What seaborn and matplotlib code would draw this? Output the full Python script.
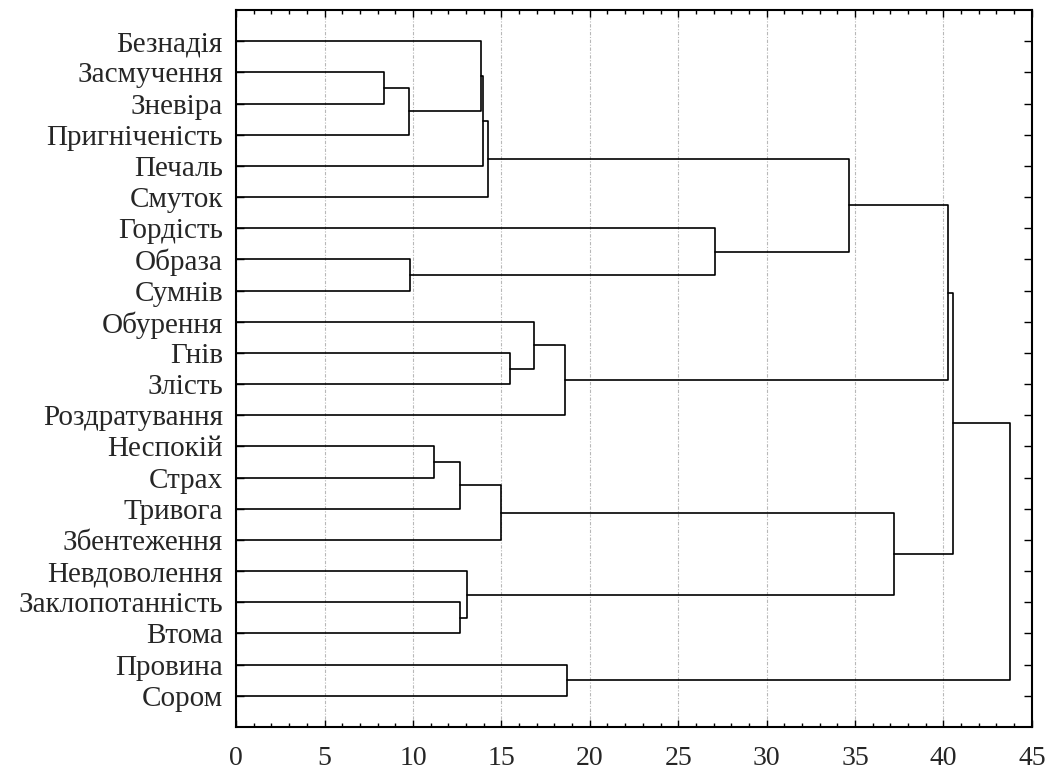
import pandas as pd
import matplotlib.pyplot as plt
import seaborn as sns
from matplotlib.ticker import MultipleLocator

# --- Data ---
leaves = [
    "Безнадія", "Засмучення", "Зневіра", "Пригніченість", "Печаль", "Смуток",
    "Гордість", "Образа", "Сумнів", "Обурення", "Гнів", "Злість",
    "Роздратування", "Неспокій", "Страх", "Тривога", "Збентеження",
    "Невдоволення", "Заклопотанність", "Втома", "Провина", "Сором",
]

# linkage-style merges: new cluster ids start at len(leaves)
merge_left = [1, 22, 7, 13, 25, 18, 17, 0, 29, 30, 26, 10, 9, 34, 20, 6, 31, 32, 38, 40, 41]
merge_right = [2, 3, 8, 14, 15, 19, 27, 23, 4, 5, 16, 11, 33, 12, 21, 24, 37, 28, 35, 39, 36]
merge_dist = [8.39, 9.76, 9.84, 11.2, 12.66, 12.66, 13.06, 13.85, 13.94, 14.23,
              15.0, 15.51, 16.86, 18.6, 18.71, 27.09, 34.66, 37.22, 40.24, 40.54, 43.76]

x_ticks = [0, 5, 10, 15, 20, 25, 30, 35, 40, 45]

# --- Layout of the tree (midpoint rule) ---
pos = {i: (0.0, i + 1.0) for i in range(len(leaves))}
rows = []
for k, (a, b, d) in enumerate(zip(merge_left, merge_right, merge_dist)):
    ha, ya = pos[a]
    hb, yb = pos[b]
    for j, (x, y) in enumerate([(ha, ya), (d, ya), (d, yb), (hb, yb)]):
        rows.append({"seg": k, "order": j, "dist": x, "leaf_pos": y})
    pos[len(leaves) + k] = (d, (ya + yb) / 2)
tree_df = pd.DataFrame(rows)

# --- Plotting ---
sns.set_style("white")
plt.rcParams["font.family"] = ["Liberation Serif", "DejaVu Serif"]

fig = plt.figure(figsize=(10.54, 7.73), dpi=100)
ax = fig.add_axes([0.224, 0.0595, 0.755, 0.9275])

sns.lineplot(data=tree_df, x="dist", y="leaf_pos", units="seg", estimator=None,
             sort=False, color="black", linewidth=1.2, ax=ax, legend=False)

ax.set_xlim(0, 45)
ax.set_ylim(len(leaves) + 1, 0)
ax.set_xticks(x_ticks)
ax.xaxis.set_minor_locator(MultipleLocator(1))
ax.set_yticks(range(1, len(leaves) + 1))
ax.set_yticklabels(leaves)
ax.set_xlabel("")
ax.set_ylabel("")

ax.tick_params(axis="x", which="major", direction="in", top=True, bottom=True,
               length=5, width=1, labelsize=20, pad=14, color="black")
ax.tick_params(axis="x", which="minor", direction="in", top=True, bottom=True,
               length=3, width=1, color="black")
ax.tick_params(axis="y", which="major", direction="in", left=True, right=True,
               length=6, width=1, labelsize=21, pad=9.5, color="black")

ax.grid(True, axis="x", which="major", color="#b8b8b8", linestyle=(0, (3, 1.5, 1, 1.5)),
        linewidth=0.8)
ax.set_axisbelow(True)
for s in ax.spines.values():
    s.set_visible(True)
    s.set_color("black")
    s.set_linewidth(1.5)

plt.savefig("out.png", dpi=100)
